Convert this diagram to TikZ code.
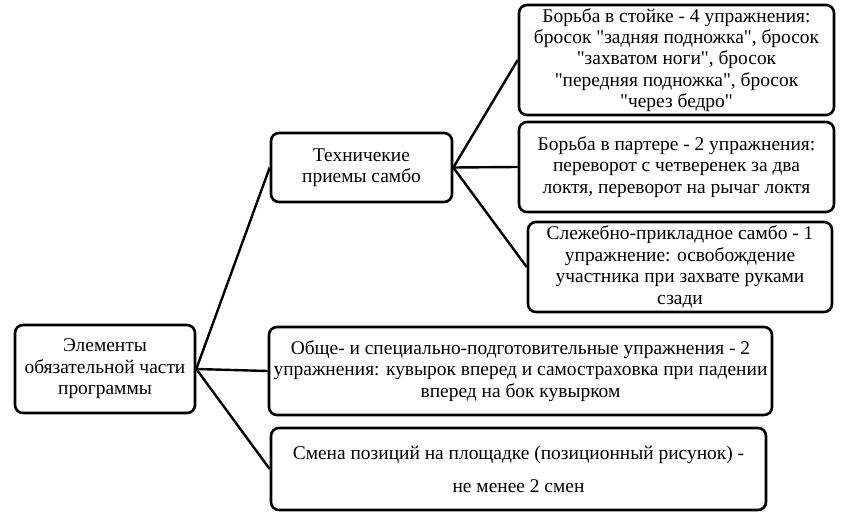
\documentclass[tikz,border=0pt]{standalone}
\usepackage{fontspec}
\setmainfont{Liberation Serif}
\newcommand{\qq}{\XeTeXglyph\XeTeXcharglyph"0022\relax}
\begin{document}
\begin{tikzpicture}[x=1bp,y=-1bp,
  box/.style={draw=black, line width=2.6bp, rounded corners=8bp, align=center,
    inner sep=1bp, font=\fontsize{19.5}{21.5}\selectfont, fill=white},
  conn/.style={draw=black, line width=2.4bp}]
\useasboundingbox (0,0) rectangle (843,522);
\node[box, minimum width=180bp, minimum height=88bp] (root) at (105,369)
  {Элементы\\обязательной части\\программы};
\node[box, minimum width=181bp, minimum height=69bp] (tech) at (361.5,167.5)
  {Техничекие\\приемы самбо};
\node[box, minimum width=315bp, minimum height=110bp] (b1) at (676.5,60)
  {Борьба в стойке - 4 упражнения:\\бросок \qq задняя подножка\qq, бросок\\\qq захватом ноги\qq, бросок\\\qq передняя подножка\qq, бросок\\\qq через бедро\qq};
\node[box, minimum width=315bp, minimum height=90bp] (b2) at (676.5,167)
  {Борьба в партере - 2 упражнения:\\переворот с четверенек за два\\локтя, переворот на рычаг локтя};
\node[box, minimum width=304bp, minimum height=90bp] (b3) at (680,267)
  {Слежебно-прикладное самбо - 1\\упражнение: освобождение\\участника при захвате руками\\сзади};
\node[box, minimum width=503bp, minimum height=88bp] (b4) at (520.5,371)
  {Обще- и специально-подготовительные упражнения - 2\\упражнения: кувырок вперед и самостраховка при падении\\вперед на бок кувырком};
\node[box, minimum width=495bp, minimum height=82bp] (b5) at (518.5,469)
  {Смена позиций на площадке (позиционный рисунок) -\\[11.5bp]не менее 2 смен};
\draw[conn] (root.east) -- (tech.west);
\draw[conn] (root.east) -- (b4.west);
\draw[conn] (root.east) -- (b5.west);
\draw[conn] (tech.east) -- (b1.west);
\draw[conn] (tech.east) -- (b2.west);
\draw[conn] (tech.east) -- (b3.west);
\end{tikzpicture}
\end{document}
